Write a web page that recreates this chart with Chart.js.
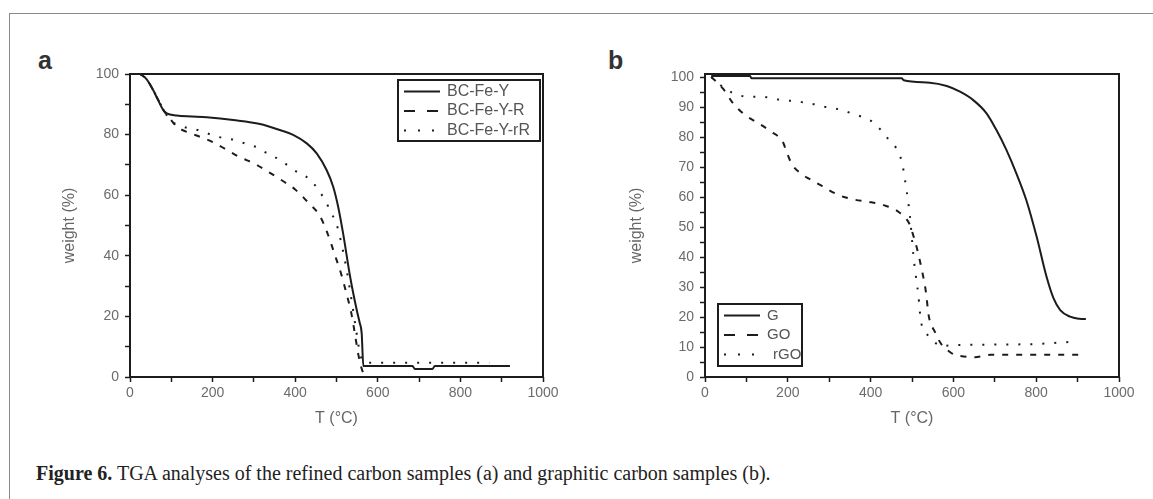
<!DOCTYPE html>
<html>
<head>
<meta charset="utf-8">
<title>TGA curves</title>
<script src="https://cdn.jsdelivr.net/npm/chart.js@4.4.1/dist/chart.umd.min.js"></script>
<style>
  html, body { margin: 0; padding: 0; background: #fff; }
  body { width: 1153px; height: 499px; position: relative; overflow: hidden; }
  #frame { position: absolute; left: 9px; top: 13px; width: 1400px; height: 700px; border: 1px solid #8a8a8a; }
  canvas { position: absolute; top: 0; }
  #chart-a { left: 0; }
  #chart-b { left: 576px; }
  .panel-tag { position: absolute; top: 48px; font: bold 25px "Liberation Sans", Arial, sans-serif; line-height: 25px; color: #333; }
  #caption { position: absolute; left: 36px; top: 463px; font: 20px "Liberation Serif", "Times New Roman", serif; line-height: 20px; color: #222; white-space: nowrap; }
</style>
</head>
<body>
<div id="frame"></div>
<div class="panel-tag" style="left:38px">a</div>
<div class="panel-tag" style="left:608px">b</div>
<canvas id="chart-a" width="576" height="460"></canvas>
<canvas id="chart-b" width="577" height="460"></canvas>
<div id="caption"><b>Figure 6.</b> TGA analyses of the refined carbon samples (a) and graphitic carbon samples (b).</div>

<script>
// (a) refined carbon samples: temperature (°C) / residual weight (%)
const tempBCFeY = [25, 40, 56, 68, 81, 89, 113, 150, 186, 250, 315, 363, 395, 428, 452, 476, 492, 504, 516, 533, 549, 556, 561, 565, 600, 684, 690, 732, 738, 920];
const weightBCFeY = [100, 98.3, 94.7, 91.4, 88, 87, 86.3, 86, 85.7, 84.8, 83.5, 81.5, 79.9, 77.1, 73.8, 68.3, 62.8, 56.2, 47.4, 33.1, 22.1, 18, 14.4, 3.6, 3.6, 3.6, 2.6, 2.6, 3.6, 3.6];

const tempBCFeYR = [25, 40, 56, 70, 85, 93, 117, 125, 161, 198, 234, 262, 303, 335, 371, 400, 432, 460, 478, 496, 512, 524, 536, 545, 553, 565, 575, 920];
const weightBCFeYR = [100, 98.3, 94.7, 91, 87.3, 85.9, 82.1, 81.6, 79.7, 77.7, 75, 72.8, 70.3, 67.7, 64.6, 61.9, 57.5, 53.1, 47.5, 40.3, 33.7, 27.6, 21, 13.9, 7.3, 1.2, 0, 0];

const tempBCFeYrR = [25, 40, 56, 70, 85, 100, 108, 141, 165, 206, 254, 282, 307, 325, 367, 395, 438, 472, 487, 500, 512, 525, 538, 548, 556, 565, 575, 870];
const weightBCFeYrR = [100, 98.3, 94.7, 91, 87.3, 84.2, 83.7, 82.1, 81.5, 79.5, 78.2, 76.9, 75.8, 74.4, 71.3, 68.5, 64.8, 58.4, 54.2, 50.5, 44, 35, 24, 15, 8.4, 5, 4.7, 4.7];

// (b) graphitic carbon samples
const tempG = [15, 109, 112, 475, 480, 543, 584, 616, 648, 680, 704, 728, 752, 776, 801, 825, 842, 858, 882, 905, 920];
const weightG = [100.3, 100.3, 99.6, 99.6, 98.9, 98.1, 97, 95.1, 92.3, 87.9, 82.3, 75.7, 67.9, 59, 46.8, 33.4, 26.2, 22.3, 20.1, 19.4, 19.3];

const tempGO = [15, 43, 68, 97, 129, 157, 189, 193, 209, 237, 250, 286, 322, 358, 395, 431, 467, 495, 499, 511, 523, 534, 540, 555, 572, 590, 604, 616, 652, 690, 920];
const weightGO = [100, 96.2, 91.2, 87.3, 84.6, 82, 78.1, 76.6, 71.2, 67.3, 66.2, 63.4, 60.7, 59.2, 58.4, 57.3, 55.1, 50.7, 49, 43.4, 36.2, 28, 20.7, 15.1, 10.7, 8.5, 7.3, 7, 6.6, 7.4, 7.4];

const tempRGO = [15, 50, 80, 111, 137, 169, 193, 217, 240, 264, 288, 312, 358, 405, 425, 448, 467, 477, 487, 495, 503, 508, 513, 517, 521, 529, 543, 572, 600, 700, 800, 893];
const weightRGO = [100, 96, 94, 93.4, 93.4, 92.7, 92.1, 92.1, 91.4, 90.9, 90.1, 89.6, 87.7, 85, 82.3, 78.4, 75.1, 70.7, 62.1, 53.7, 41, 35, 30, 25, 19, 15.9, 13.2, 10.4, 10.6, 10.8, 11, 11.8];

// axis ticks (minor ticks carry no label)
const xTicks = [0, 100, 200, 300, 400, 500, 600, 700, 800, 900, 1000];
const yTicksA = [0, 10, 20, 30, 40, 50, 60, 70, 80, 90, 100];
const yTicksB = [0, 5, 10, 15, 20, 25, 30, 35, 40, 45, 50, 55, 60, 65, 70, 75, 80, 85, 90, 95, 100];

const INK = '#1c1c1c';
const tickFont = { family: '"Liberation Sans", Arial, sans-serif', size: 14 };
const titleFont = { family: '"Liberation Sans", Arial, sans-serif', size: 16 };

const toPoints = (xs, ys) => xs.map((x, i) => ({ x, y: ys[i] }));

const solid = { borderDash: [], legendDash: [] };
const dashed = { borderDash: [6, 8], legendDash: [11, 12] };
const dotted = { borderDash: [2, 10], legendDash: [2, 12] };

const makeDataset = (label, xs, ys, style, extra) => Object.assign({
  label,
  data: toPoints(xs, ys),
  borderColor: INK,
  borderWidth: 2,
  pointRadius: 0,
  fill: false,
  cubicInterpolationMode: 'monotone',
}, style, extra || {});

// box around the plotting area
const plotFrame = {
  id: 'plotFrame',
  afterDatasetsDraw(chart) {
    const { ctx, chartArea: a } = chart;
    ctx.save();
    ctx.strokeStyle = INK;
    ctx.lineWidth = 2;
    ctx.strokeRect(a.left, a.top, a.right - a.left, a.bottom - a.top);
    ctx.restore();
  }
};

// framed legend inside the plot, Origin style
const boxLegend = {
  id: 'boxLegend',
  afterDraw(chart, args, opts) {
    const { ctx, chartArea: area } = chart;
    const left = opts.corner === 'topright' ? area.right - opts.dx - opts.width : area.left + opts.dx;
    const top = opts.corner === 'topright' ? area.top + opts.dy : area.bottom - opts.dy - opts.height;
    ctx.save();
    ctx.fillStyle = '#fff';
    ctx.fillRect(left, top, opts.width, opts.height);
    ctx.strokeStyle = INK;
    ctx.lineWidth = 2;
    ctx.strokeRect(left, top, opts.width, opts.height);
    ctx.font = opts.fontSize + 'px "Liberation Sans", Arial, sans-serif';
    ctx.textBaseline = 'middle';
    chart.data.datasets.forEach((ds, i) => {
      const y = top + 11.5 + i * 19.5;
      ctx.beginPath();
      ctx.setLineDash(ds.legendDash);
      ctx.lineWidth = 2;
      ctx.strokeStyle = ds.borderColor;
      ctx.moveTo(left + 6, y);
      ctx.lineTo(left + 42, y);
      ctx.stroke();
      ctx.setLineDash([]);
      ctx.fillStyle = '#555';
      ctx.fillText(ds.label, left + 49 + (ds.legendIndent || 0), y);
    });
    ctx.restore();
  }
};

const makeScales = (yMax, yTicks, yStep, yWidth) => ({
  x: {
    type: 'linear',
    min: 0,
    max: 1000,
    afterBuildTicks: s => { s.ticks = xTicks.map(v => ({ value: v })); },
    afterFit: s => { s.height = 51; },
    ticks: { autoSkip: false, maxRotation: 0, padding: 3, color: '#6b6b6b', font: tickFont,
             callback: v => (v % 200 === 0 ? v : '') },
    grid: { drawOnChartArea: false, tickLength: 5, tickColor: INK, tickWidth: 1.5 },
    border: { display: false },
    title: { display: true, text: 'T (°C)', color: '#666', font: titleFont, padding: 0 }
  },
  y: {
    min: 0,
    max: yMax,
    afterBuildTicks: s => { s.ticks = yTicks.map(v => ({ value: v })); },
    afterFit: s => { s.width = yWidth; },
    ticks: { autoSkip: false, padding: 6, color: '#6b6b6b', font: tickFont,
             callback: v => (v % yStep === 0 ? v : '') },
    grid: { drawOnChartArea: false, tickLength: 5, tickColor: INK, tickWidth: 1.5 },
    border: { display: false },
    title: { display: true, text: 'weight (%)', color: '#666', font: titleFont, padding: 0 }
  }
});

const chartA = new Chart(document.getElementById('chart-a'), {
  type: 'line',
  data: {
    datasets: [
      makeDataset('BC-Fe-Y', tempBCFeY, weightBCFeY, solid),
      makeDataset('BC-Fe-Y-R', tempBCFeYR, weightBCFeYR, dashed),
      makeDataset('BC-Fe-Y-rR', tempBCFeYrR, weightBCFeYrR, dotted)
    ]
  },
  options: {
    responsive: false,
    animation: false,
    devicePixelRatio: 1,
    layout: { padding: { left: 60, top: 74, right: 33, bottom: 32 } },
    scales: makeScales(100, yTicksA, 20, 70),
    plugins: {
      legend: { display: false },
      tooltip: { enabled: false },
      boxLegend: { corner: 'topright', dx: 3, dy: 6, width: 142, height: 61, fontSize: 16 }
    }
  },
  plugins: [plotFrame, boxLegend]
});

const chartB = new Chart(document.getElementById('chart-b'), {
  type: 'line',
  data: {
    datasets: [
      makeDataset('G', tempG, weightG, solid),
      makeDataset('GO', tempGO, weightGO, dashed),
      makeDataset('rGO', tempRGO, weightRGO, dotted, { legendIndent: 6 })
    ]
  },
  options: {
    responsive: false,
    animation: false,
    devicePixelRatio: 1,
    layout: { padding: { left: 51, top: 74, right: 34, bottom: 32 } },
    scales: makeScales(101, yTicksB, 10, 78),
    plugins: {
      legend: { display: false },
      tooltip: { enabled: false },
      boxLegend: { corner: 'bottomleft', dx: 13, dy: 11, width: 84, height: 62, fontSize: 15 }
    }
  },
  plugins: [plotFrame, boxLegend]
});
</script>
</body>
</html>
